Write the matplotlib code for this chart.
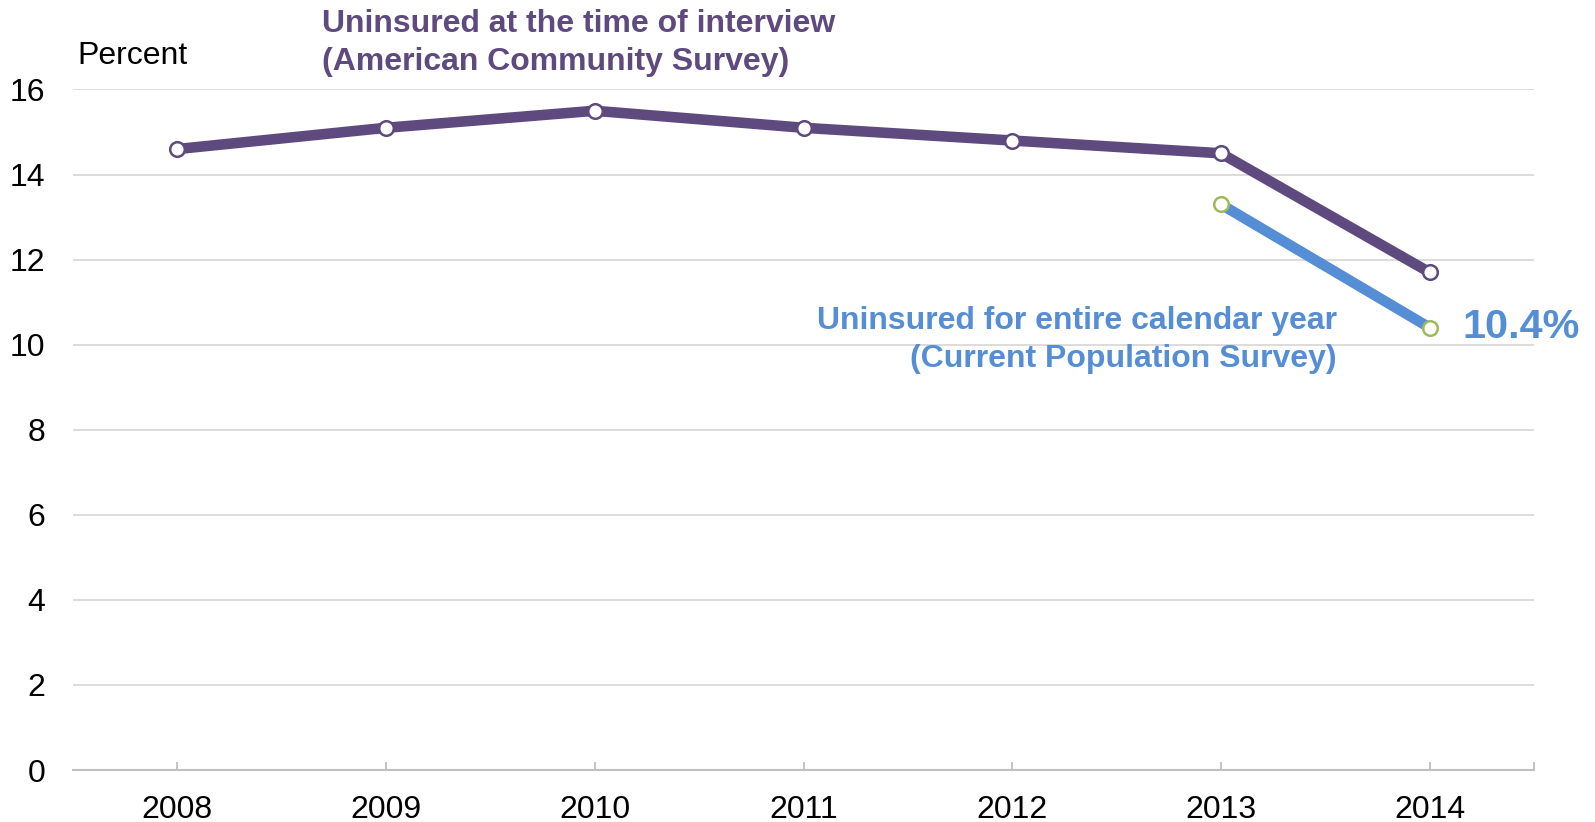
import matplotlib
matplotlib.use("Agg")
import matplotlib.pyplot as plt

years = ["2008", "2009", "2010", "2011", "2012", "2013", "2014"]
acs_values = [14.6, 15.1, 15.5, 15.1, 14.8, 14.5, 11.7]
cps_years = ["2013", "2014"]
cps_values = [13.3, 10.4]
y_ticks = [0, 2, 4, 6, 8, 10, 12, 14, 16]

purple = "#5E4A7E"
blue = "#558ED5"
green = "#9BBB59"

plt.rcParams["font.family"] = ["Liberation Sans", "DejaVu Sans"]

fig = plt.figure(figsize=(15.95, 8.22), dpi=100)
ax = fig.add_axes([73 / 1595, 1 - 770 / 822, (1534 - 73) / 1595, (770 - 89.5) / 822])

xi = list(range(len(years)))
cps_x = [years.index(y) for y in cps_years]

ax.plot(xi, acs_values, color=purple, lw=7.6, marker="o", ms=10.5, mfc="white",
        mec=purple, mew=1.8, zorder=3, solid_capstyle="butt")
ax.plot(cps_x, cps_values, color=blue, lw=7.6, marker="o", ms=10.5, mfc="white",
        mec=green, mew=1.8, zorder=3, solid_capstyle="butt")

ax.set_xlim(-0.5, len(years) - 0.5)
ax.set_ylim(0, 16)
ax.set_yticks(y_ticks)
ax.set_yticklabels([str(v) for v in y_ticks], fontsize=23)
ax.set_xticks(xi + [len(years) - 0.5])
ax.set_xticklabels(years + [""], fontsize=23)
ax.yaxis.grid(True, color="#D9D9D9", lw=1.3)
ax.set_axisbelow(True)
for s in ["left", "right", "top"]:
    ax.spines[s].set_visible(False)
ax.spines["bottom"].set_color("#BFBFBF")
ax.spines["bottom"].set_linewidth(1.5)
ax.tick_params(axis="y", length=0, pad=20)
ax.tick_params(axis="x", direction="in", length=6, width=1.3, color="#BFBFBF", pad=18)

fig.text(77 / 1595, 1 - 56 / 822, "Percent", fontsize=23, ha="left", va="center")
fig.text(322 / 1595, 1 - 43 / 822, "Uninsured at the time of interview\n(American Community Survey)",
         fontsize=23, fontweight="bold", color=purple, ha="left", va="center", linespacing=1.35)
fig.text(1337 / 1595, 1 - 340 / 822, "Uninsured for entire calendar year\n(Current Population Survey)",
         fontsize=23, fontweight="bold", color=blue, ha="right", va="center", linespacing=1.35,
         multialignment="right")
fig.text(1462 / 1595, 1 - 327 / 822, "10.4%", fontsize=29.8, fontweight="bold", color=blue,
         ha="left", va="center")

fig.savefig("out.png", dpi=100)
